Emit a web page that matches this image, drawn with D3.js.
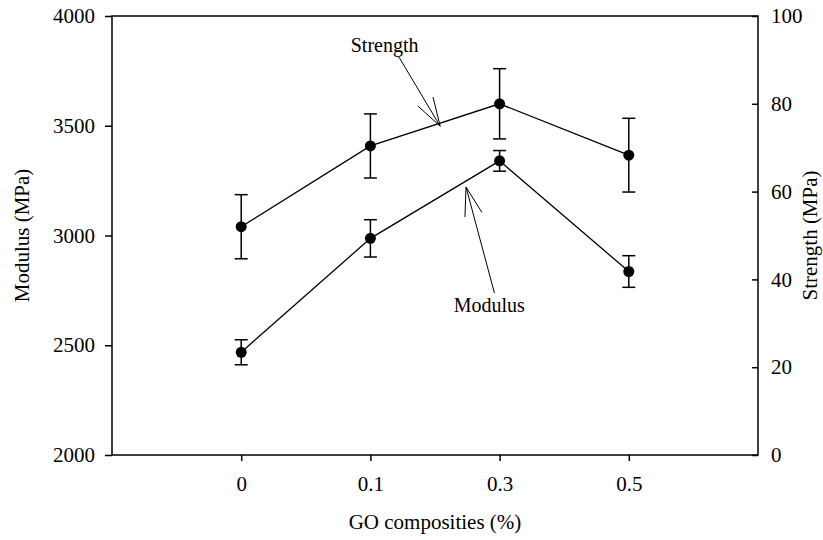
<!DOCTYPE html>
<html>
<head>
<meta charset="utf-8">
<script src="https://cdn.jsdelivr.net/npm/d3@7"></script>
<style>
  body { margin: 0; background: #fff; }
  svg text { font-family: "Liberation Serif", "DejaVu Serif", "Times New Roman", serif; fill: #000; }
</style>
</head>
<body>
<div id="chart"></div>
<script>
var svgWidth = 823;
var svgHeight = 540;

var margin = { top: 16, right: 65, bottom: 85, left: 112 };
var width = svgWidth - margin.left - margin.right;
var height = svgHeight - margin.top - margin.bottom;

// data
var categories = ["0", "0.1", "0.3", "0.5"];
var modulus = [2468, 2987, 3340, 2836];
var modulusErr = [57, 85, 47, 72];
var strength = [52.0, 70.4, 80.0, 68.3];
var strengthErr = [7.3, 7.3, 8.0, 8.4];
var modulusTicks = [2000, 2500, 3000, 3500, 4000];
var strengthTicks = [0, 20, 40, 60, 80, 100];

var serif = "'Liberation Serif', 'DejaVu Serif', serif";

var svg = d3.select("#chart")
    .append("svg")
    .attr("width", svgWidth)
    .attr("height", svgHeight)
    .attr("font-family", serif);

var chartGroup = svg.append("g")
    .attr("transform", `translate(${margin.left}, ${margin.top})`);

var xScale = d3.scalePoint()
    .domain(categories)
    .range([0, width])
    .padding(1);

// position between categories, for the annotations
var xIndex = d3.scaleLinear()
    .domain([0, categories.length - 1])
    .range([xScale(categories[0]), xScale(categories[categories.length - 1])]);

var yLeft = d3.scaleLinear().domain([2000, 4000]).range([height, 0]);
var yRight = d3.scaleLinear().domain([0, 100]).range([height, 0]);

// frame
chartGroup.append("rect")
    .attr("width", width)
    .attr("height", height)
    .attr("fill", "none")
    .attr("stroke", "#000")
    .attr("stroke-width", 1.5);

var bottomAxis = d3.axisBottom(xScale).tickSize(6).tickSizeOuter(0);
var leftAxis = d3.axisLeft(yLeft).tickValues(modulusTicks).tickFormat(d3.format("d"))
    .tickSize(7).tickSizeOuter(0);
var rightAxis = d3.axisRight(yRight).tickValues(strengthTicks).tickFormat(d3.format("d"))
    .tickSize(-6).tickSizeOuter(0);

function styleAxis(g) {
    g.attr("font-family", serif).attr("font-size", 21);
    g.select(".domain").remove();
    g.selectAll(".tick line").attr("stroke", "#000").attr("stroke-width", 1.5);
    g.selectAll(".tick text").attr("fill", "#000");
}

chartGroup.append("g")
    .attr("transform", `translate(0, ${height})`)
    .call(bottomAxis)
    .call(styleAxis)
    .selectAll(".tick text").attr("y", 36).attr("dy", 0);

chartGroup.append("g")
    .call(leftAxis)
    .call(styleAxis)
    .selectAll(".tick text").attr("x", -17);

chartGroup.append("g")
    .attr("transform", `translate(${width}, 0)`)
    .call(rightAxis)
    .call(styleAxis)
    .selectAll(".tick text").attr("x", 13);

// series
function drawSeries(values, errs, yScale) {
    var pts = categories.map((c, i) => ({ c: c, v: values[i], e: errs[i] }));

    chartGroup.append("path")
        .datum(pts)
        .attr("fill", "none")
        .attr("stroke", "#000")
        .attr("stroke-width", 1.3)
        .attr("d", d3.line().x(d => xScale(d.c)).y(d => yScale(d.v)));

    var bars = chartGroup.append("g").selectAll("g")
        .data(pts)
        .enter()
        .append("g")
        .attr("stroke", "#000")
        .attr("stroke-width", 1.5);

    bars.append("line")
        .attr("x1", d => xScale(d.c)).attr("x2", d => xScale(d.c))
        .attr("y1", d => yScale(d.v - d.e)).attr("y2", d => yScale(d.v + d.e));
    bars.append("line")
        .attr("x1", d => xScale(d.c) - 6.5).attr("x2", d => xScale(d.c) + 6.5)
        .attr("y1", d => yScale(d.v + d.e)).attr("y2", d => yScale(d.v + d.e));
    bars.append("line")
        .attr("x1", d => xScale(d.c) - 6.5).attr("x2", d => xScale(d.c) + 6.5)
        .attr("y1", d => yScale(d.v - d.e)).attr("y2", d => yScale(d.v - d.e));

    chartGroup.append("g").selectAll("circle")
        .data(pts)
        .enter()
        .append("circle")
        .attr("cx", d => xScale(d.c))
        .attr("cy", d => yScale(d.v))
        .attr("r", 5.5)
        .attr("fill", "#000");
}

drawSeries(modulus, modulusErr, yLeft);
drawSeries(strength, strengthErr, yRight);

// annotation arrows with open heads
function arrow(x1, y1, x2, y2) {
    var a = Math.atan2(y1 - y2, x1 - x2);
    var len = 30, spread = 17 * Math.PI / 180;
    var g = chartGroup.append("g").attr("stroke", "#000").attr("stroke-width", 1);
    g.append("line").attr("x1", x1).attr("y1", y1).attr("x2", x2).attr("y2", y2);
    [-spread, spread].forEach(function (s) {
        g.append("line")
            .attr("x1", x2).attr("y1", y2)
            .attr("x2", x2 + len * Math.cos(a + s))
            .attr("y2", y2 + len * Math.sin(a + s));
    });
}

arrow(xIndex(1.22), yRight(90.7), xIndex(1.54), yRight(74.9));
chartGroup.append("text")
    .attr("x", xIndex(1.11))
    .attr("y", yRight(93.4))
    .attr("dy", "0.35em")
    .attr("text-anchor", "middle")
    .attr("font-size", 20)
    .text("Strength");

arrow(xIndex(1.96), yLeft(2738), xIndex(1.74), yLeft(3221));
chartGroup.append("text")
    .attr("x", xIndex(1.92))
    .attr("y", yLeft(2683))
    .attr("dy", "0.35em")
    .attr("text-anchor", "middle")
    .attr("font-size", 20)
    .text("Modulus");

// axis titles
chartGroup.append("text")
    .attr("transform", "rotate(-90)")
    .attr("x", -height / 2)
    .attr("y", -margin.left + 29)
    .attr("text-anchor", "middle")
    .attr("font-size", 21)
    .text("Modulus (MPa)");

chartGroup.append("text")
    .attr("transform", "rotate(-90)")
    .attr("x", -height / 2)
    .attr("y", width + 59)
    .attr("text-anchor", "middle")
    .attr("font-size", 21)
    .text("Strength (MPa)");

chartGroup.append("text")
    .attr("x", width / 2)
    .attr("y", height + 74)
    .attr("text-anchor", "middle")
    .attr("font-size", 21)
    .text("GO composities (%)");
</script>
</body>
</html>
